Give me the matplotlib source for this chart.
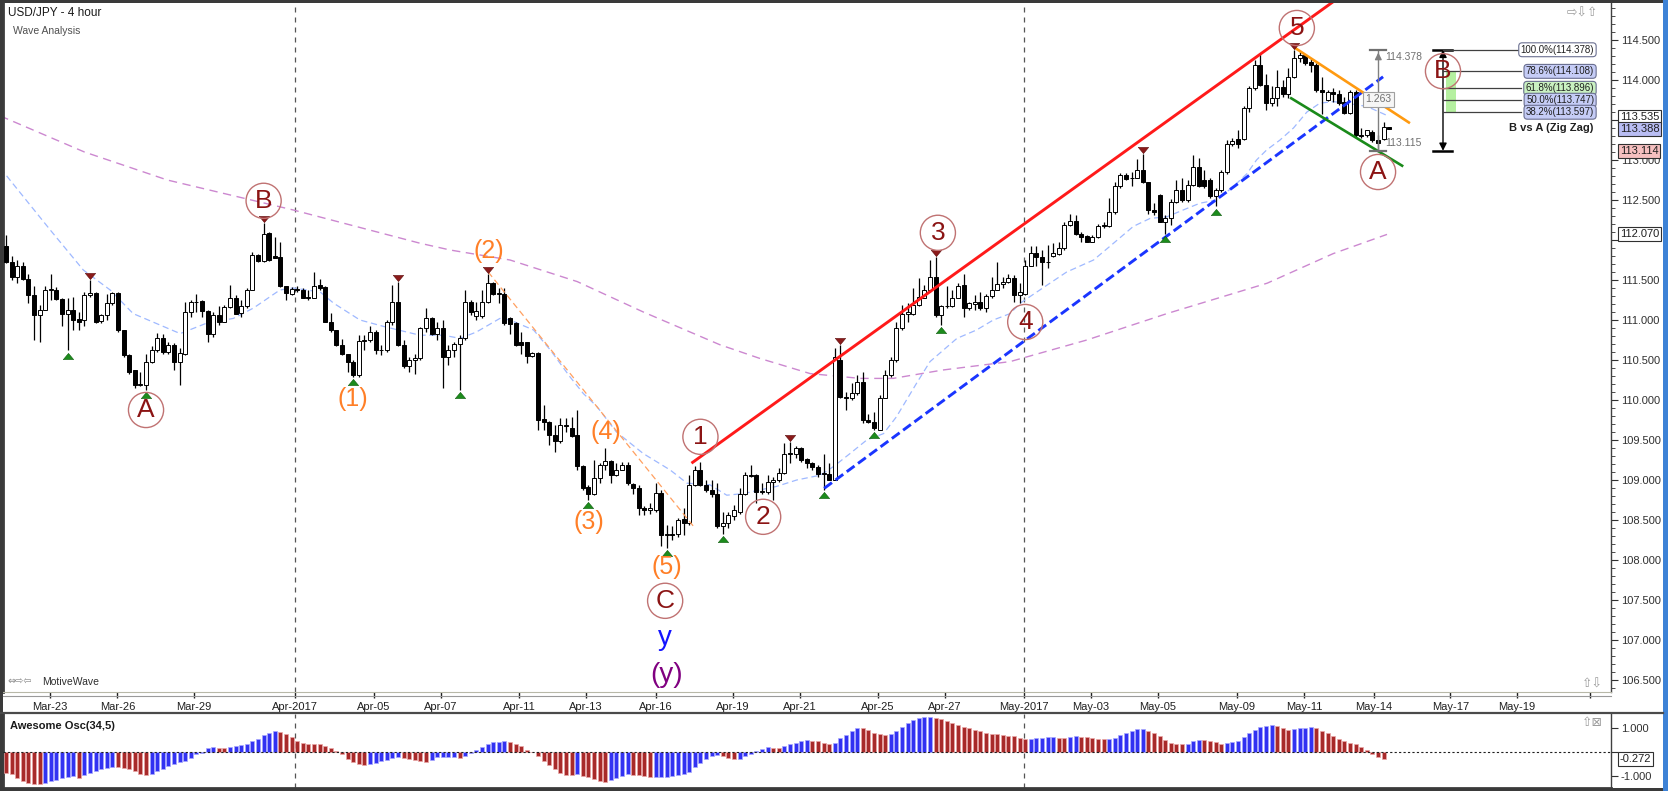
import numpy as np
import matplotlib.pyplot as plt
from matplotlib.patches import Rectangle
from matplotlib.lines import Line2D
from matplotlib.ticker import MultipleLocator, FuncFormatter
from matplotlib.transforms import blended_transform_factory

plt.rcParams['font.family'] = ['Liberation Sans', 'DejaVu Sans']

W, H = 1668, 791

# ---------------------------------------------------------------- candles (USD/JPY 4h)
opens = [
    111.92, 111.72, 111.54, 111.68, 111.51, 111.31, 111.06, 111.12, 111.38, 111.38,
    111.26, 111.08, 111.12, 111.01, 111.00, 111.31, 111.34, 110.99, 111.06, 111.21,
    111.34, 110.88, 110.56, 110.37, 110.19, 110.19, 110.48, 110.63, 110.77, 110.60,
    110.69, 110.47, 110.58, 111.10, 111.23, 111.24, 111.11, 110.83, 111.06, 110.98,
    111.16, 111.28, 111.09, 111.17, 111.38, 111.81, 111.74, 112.09, 111.80, 111.79,
    111.42, 111.33, 111.39, 111.38, 111.29, 111.28, 111.44, 111.41, 110.98, 110.87,
    110.69, 110.58, 110.48, 110.31, 110.74, 110.75, 110.85, 110.62, 110.62, 110.97,
    111.23, 110.69, 110.42, 110.50,
    110.52, 110.90, 111.02, 110.83, 110.90, 110.54, 110.63, 110.70, 110.77, 111.22,
    111.05, 111.05, 111.23, 111.46, 111.33, 111.33, 111.02, 110.96, 110.72, 110.72,
    110.55, 110.59, 109.76, 109.73, 109.56, 109.49, 109.69, 109.65, 109.56, 109.17,
    108.91, 108.83, 109.02, 109.19, 109.24, 109.06, 109.13, 109.19, 108.95, 108.90,
    108.65, 108.63, 108.62, 108.84, 108.31, 108.33, 108.33, 108.51, 108.46, 108.94,
    109.13, 108.94, 108.88, 108.83,
    108.42, 108.46, 108.55, 108.60, 108.83, 109.06, 109.06, 108.85, 108.85, 108.98,
    109.00, 109.09, 109.33, 109.33, 109.40, 109.26, 109.21, 109.16, 109.08, 109.08,
    109.00, 110.50, 110.04, 110.02, 110.09, 110.22, 109.75, 109.73, 109.63, 110.03,
    110.31, 110.50, 110.90, 111.08, 111.08, 111.19, 111.28, 111.37, 111.54, 111.06,
    111.175, 111.175, 111.28, 111.44, 111.15, 111.20, 111.22, 111.15, 111.30, 111.38,
    111.45, 111.47,
    111.53, 111.31, 111.33, 111.675, 111.84, 111.79, 111.72, 111.80, 111.83, 111.90,
    112.19, 112.24, 112.08, 112.05, 111.98, 112.04, 112.18, 112.175, 112.35, 112.675,
    112.81, 112.78, 112.78, 112.88, 112.72, 112.37, 112.56, 112.23, 112.27, 112.47,
    112.63, 112.50, 112.69, 112.91, 112.75, 112.75, 112.55, 112.62, 112.85, 113.20,
    113.26, 113.26, 113.65, 113.90, 114.19, 113.94, 113.71, 113.78, 113.91, 113.825,
    114.04, 114.27, 114.31, 114.23, 114.19, 113.875, 113.75, 113.85, 113.83, 113.73,
    113.59, 113.85, 113.31, 113.31, 113.35, 113.25, 113.26, 113.41,
]
highs = [
    112.06, 111.80, 111.75, 111.73, 111.58, 111.42, 111.19, 111.42, 111.58, 111.41,
    111.27, 111.27, 111.29, 111.10, 111.35, 111.50, 111.35, 111.08, 111.33, 111.35,
    111.35, 110.88, 110.58, 110.38, 110.35, 110.58, 110.68, 110.84, 110.83, 110.73,
    110.71, 110.65, 111.23, 111.25, 111.33, 111.25, 111.13, 111.10, 111.17, 111.19,
    111.44, 111.31, 111.25, 111.40, 111.85, 111.83, 112.21, 112.10, 112.04, 111.98,
    111.42, 111.41, 111.42, 111.40, 111.37, 111.60, 111.51, 111.42, 111.09, 110.88,
    110.76, 110.58, 110.50, 110.81, 110.81, 110.92, 110.88, 110.69, 111.00, 111.44,
    111.48, 110.75, 110.54, 110.58,
    110.91, 111.15, 111.04, 110.98, 111.00, 110.69, 110.73, 110.81, 111.38, 111.25,
    111.23, 111.38, 111.58, 111.48, 111.40, 111.40, 111.04, 110.98, 110.85, 110.73,
    110.60, 110.60, 109.94, 109.74, 109.69, 109.77, 109.77, 109.79, 109.88, 109.19,
    108.94, 109.25, 109.21, 109.40, 109.25, 109.21, 109.23, 109.23, 108.96, 108.94,
    108.67, 108.71, 108.96, 108.88, 108.44, 108.42, 108.52, 108.65, 109.06, 109.18,
    109.23, 109.00, 109.00, 108.96,
    108.60, 108.60, 108.69, 108.90, 109.10, 109.19, 109.08, 108.96, 109.06, 109.04,
    109.15, 109.46, 109.48, 109.42, 109.41, 109.27, 109.22, 109.19, 109.33, 109.21,
    110.65, 110.69, 110.10, 110.21, 110.31, 110.35, 109.83, 109.85, 110.06, 110.375,
    110.54, 110.98, 111.19, 111.21, 111.40, 111.52, 111.44, 111.75, 111.79, 111.19,
    111.42, 111.375, 111.46, 111.58, 111.23, 111.31, 111.35, 111.33, 111.54, 111.73,
    111.54, 111.58,
    111.56, 111.46, 111.75, 111.925, 111.92, 111.875, 111.94, 111.96, 111.98, 112.22,
    112.325, 112.31, 112.10, 112.06, 112.06, 112.20, 112.23, 112.52, 112.73, 112.84,
    112.84, 112.85, 113.01, 113.08, 112.73, 112.46, 112.575, 112.31, 112.51, 112.75,
    112.77, 112.75, 113.06, 113.02, 112.875, 112.77, 112.65, 112.87, 113.25, 113.27,
    113.38, 113.675, 113.92, 114.25, 114.33, 114.08, 113.92, 114.13, 114.00, 114.15,
    114.378, 114.35, 114.33, 114.27, 114.21, 114.04, 113.875, 113.90, 113.875, 113.79,
    113.875, 113.875, 113.40, 113.38, 113.375, 113.31, 113.47, 113.41,
]
lows = [
    111.71, 111.50, 111.46, 111.50, 111.21, 110.75, 110.73, 111.12, 111.25, 111.25,
    110.92, 110.62, 110.88, 110.88, 110.92, 111.29, 110.96, 110.96, 111.00, 111.19,
    110.85, 110.54, 110.33, 110.15, 110.17, 110.13, 110.46, 110.60, 110.58, 110.58,
    110.38, 110.19, 110.56, 111.04, 111.10, 111.04, 110.72, 110.79, 110.94, 110.97,
    111.15, 111.08, 111.04, 111.15, 111.38, 111.73, 111.73, 111.74, 111.77, 111.41,
    111.25, 111.31, 111.35, 111.27, 111.25, 111.27, 111.38, 110.97, 110.85, 110.67,
    110.56, 110.35, 110.29, 110.29, 110.63, 110.73, 110.58, 110.56, 110.60, 110.94,
    110.67, 110.40, 110.35, 110.33,
    110.50, 110.85, 110.81, 110.75, 110.15, 110.44, 110.54, 110.13, 110.75, 111.06,
    111.00, 111.02, 111.21, 111.31, 111.21, 110.94, 110.83, 110.67, 110.58, 110.46,
    110.54, 109.63, 109.63, 109.44, 109.35, 109.46, 109.60, 109.54, 109.13, 108.88,
    108.75, 108.81, 108.96, 109.13, 108.96, 109.05, 109.13, 108.94, 108.83, 108.56,
    108.56, 108.58, 108.60, 108.17, 108.15, 108.25, 108.29, 108.31, 108.44, 108.92,
    108.92, 108.85, 108.79, 108.40,
    108.33, 108.40, 108.50, 108.58, 108.81, 109.04, 108.71, 108.83, 108.83, 108.75,
    108.98, 109.08, 109.21, 109.27, 109.23, 109.15, 109.125, 109.04, 108.88, 109.00,
    109.00, 110.02, 109.875, 110.00, 110.06, 109.71, 109.71, 109.625, 109.625, 110.02,
    110.29, 110.48, 110.88, 110.98, 111.06, 111.17, 111.27, 111.35, 111.04, 110.94,
    111.15, 111.16, 111.27, 111.04, 111.125, 111.13, 111.125, 111.10, 111.28, 111.375,
    111.40, 111.46,
    111.23, 111.21, 111.31, 111.67, 111.67, 111.44, 111.65, 111.79, 111.81, 111.875,
    112.17, 112.06, 111.98, 111.97, 111.97, 112.02, 112.15, 112.16, 112.33, 112.65,
    112.75, 112.67, 112.77, 112.71, 112.33, 112.31, 112.22, 112.08, 112.19, 112.46,
    112.48, 112.48, 112.67, 112.66, 112.65, 112.53, 112.42, 112.60, 112.83, 113.17,
    113.15, 113.25, 113.60, 113.88, 113.92, 113.625, 113.675, 113.675, 113.79, 113.77,
    114.02, 114.23, 114.19, 114.10, 113.85, 113.58, 113.74, 113.73, 113.69, 113.58,
    113.575, 113.29, 113.28, 113.29, 113.23, 113.115, 113.25, 113.39,
]
closes = [
    111.73, 111.54, 111.67, 111.51, 111.31, 111.06, 111.13, 111.38, 111.38, 111.26,
    111.08, 111.12, 111.00, 110.98, 111.31, 111.34, 110.98, 111.06, 111.21, 111.34,
    110.88, 110.56, 110.35, 110.19, 110.20, 110.48, 110.63, 110.77, 110.60, 110.69,
    110.47, 110.59, 111.10, 111.23, 111.22, 111.11, 110.83, 111.06, 110.98, 111.16,
    111.28, 111.08, 111.17, 111.38, 111.81, 111.74, 112.08, 111.75, 111.78, 111.42,
    111.34, 111.39, 111.38, 111.28, 111.28, 111.42, 111.40, 110.98, 110.87, 110.69,
    110.58, 110.48, 110.31, 110.74, 110.75, 110.85, 110.62, 110.63, 110.97, 111.23,
    110.69, 110.42, 110.50, 110.52,
    110.90, 111.02, 110.83, 110.90, 110.54, 110.63, 110.70, 110.77, 111.22, 111.10,
    111.11, 111.23, 111.46, 111.33, 111.33, 110.96, 110.95, 110.69, 110.69, 110.55,
    110.59, 109.75, 109.72, 109.56, 109.49, 109.69, 109.67, 109.55, 109.17, 108.90,
    108.83, 109.02, 109.19, 109.24, 109.06, 109.13, 109.19, 108.96, 108.90, 108.65,
    108.63, 108.65, 108.84, 108.31, 108.33, 108.31, 108.50, 108.46, 108.94, 109.13,
    108.94, 108.88, 108.83, 108.42,
    108.46, 108.56, 108.625, 108.83, 109.06, 109.05, 108.85, 108.85, 108.98, 109.00,
    109.09, 109.33, 109.325, 109.40, 109.25, 109.21, 109.16, 109.08, 109.08, 109.00,
    110.54, 110.04, 110.03, 110.09, 110.22, 109.75, 109.73, 109.65, 110.03, 110.31,
    110.50, 110.90, 111.08, 111.10, 111.19, 111.29, 111.37, 111.54, 111.06, 111.175,
    111.17, 111.28, 111.425, 111.15, 111.21, 111.22, 111.15, 111.30, 111.38, 111.45,
    111.47, 111.52,
    111.31, 111.35, 111.675, 111.84, 111.79, 111.72, 111.73, 111.84, 111.90, 112.19,
    112.24, 112.075, 112.04, 111.98, 112.04, 112.18, 112.175, 112.35, 112.675, 112.81,
    112.76, 112.77, 112.88, 112.72, 112.37, 112.35, 112.23, 112.27, 112.47, 112.63,
    112.50, 112.69, 112.91, 112.67, 112.67, 112.55, 112.62, 112.85, 113.20, 113.24,
    113.20, 113.65, 113.90, 114.19, 113.94, 113.71, 113.78, 113.91, 113.825, 114.04,
    114.27, 114.31, 114.21, 114.19, 113.875, 113.85, 113.85, 113.83, 113.71, 113.59,
    113.85, 113.31, 113.30, 113.37, 113.25, 113.21, 113.41, 113.39,
]

# Awesome oscillator (34,5)
ao = [
    -0.875, -0.93, -1.07, -1.22, -1.29, -1.32, -1.33, -1.28, -1.22, -1.15,
    -1.08, -1.06, -1.01, -1.07, -0.97, -0.875, -0.79, -0.72, -0.67, -0.61,
    -0.625, -0.65, -0.72, -0.81, -0.90, -0.94, -0.90, -0.81, -0.69, -0.60,
    -0.51, -0.42, -0.36, -0.24, -0.10, -0.03, 0.18, 0.19, 0.185, 0.18,
    0.22, 0.25, 0.31, 0.35, 0.44, 0.56, 0.69, 0.79, 0.86, 0.83,
    0.75, 0.625, 0.44, 0.39, 0.33, 0.325, 0.32, 0.25, 0.17, 0.03,
    -0.07, -0.28, -0.42, -0.51, -0.53, -0.49, -0.44, -0.39, -0.32, -0.25,
    -0.21, -0.24, -0.28, -0.32, -0.39, -0.40, -0.32, -0.22, -0.215, -0.21,
    -0.20, -0.24, -0.15, -0.03, 0.07, 0.21, 0.35, 0.43, 0.435, 0.47,
    0.43, 0.35, 0.24, 0.07, -0.01, -0.18, -0.36, -0.56, -0.72, -0.875,
    -0.94, -0.95, -0.93, -1.00, -1.06, -1.125, -1.22, -1.23, -1.15, -1.07,
    -0.99, -0.92, -0.94, -0.95, -1.01, -1.045, -1.04, -1.035, -1.025, -1.00,
    -0.97, -0.93, -0.83, -0.625, -0.44, -0.28, -0.17, -0.14, -0.17, -0.25,
    -0.29, -0.28, -0.18, -0.08, 0.03, 0.11, 0.19, 0.17, 0.165, 0.25,
    0.32, 0.39, 0.44, 0.50, 0.47, 0.44, 0.36, 0.32, 0.39, 0.58,
    0.72, 0.86, 1.01, 1.00, 0.90, 0.81, 0.74, 0.69, 0.74, 0.86,
    1.04, 1.21, 1.32, 1.42, 1.44, 1.445, 1.43, 1.36, 1.28, 1.21,
    1.14, 1.06, 1.01, 0.93, 0.86, 0.78, 0.74, 0.735, 0.69, 0.685,
    0.65, 0.60, 0.555, 0.56, 0.58, 0.585, 0.625, 0.63, 0.58, 0.575,
    0.625, 0.65, 0.625, 0.62, 0.58, 0.56, 0.555, 0.56, 0.60, 0.69,
    0.78, 0.86, 0.94, 0.945, 0.89, 0.78, 0.67, 0.51, 0.39, 0.35,
    0.345, 0.35, 0.46, 0.51, 0.505, 0.46, 0.42, 0.35, 0.355, 0.42,
    0.46, 0.625, 0.78, 0.90, 1.03, 1.10, 1.105, 1.10, 0.99, 0.90,
    0.94, 1.00, 1.005, 1.03, 0.99, 0.86, 0.78, 0.67, 0.56, 0.47,
    0.39, 0.32, 0.21, 0.08, -0.07, -0.19, -0.272,
]

# moving averages (bar index, price)
ma_fast_x = [-1, 0.7, 7.9, 13.8, 18.6, 22.7, 31.1, 35.8, 40.6, 44.2, 48.9, 51.3, 56.1, 58.5,
             63.2, 67.4, 73.9, 78.1, 81.1, 84.0, 88.2, 90.0, 94.2, 97.2, 100.7, 103.1, 105.5,
             109.0, 113.8, 118.6, 121.6, 125.7, 128.7, 131.7, 134.6, 137.6, 141.2, 145.4,
             147.8, 150.7, 153.7, 156.7, 159.0, 162.6, 165.0, 167.4, 169.8, 173.3, 176.3,
             179.3, 181.1, 184.6, 189.4, 194.2, 197.1, 201.3, 204.3, 207.3, 210.2, 213.2,
             216.2, 219.2, 221.6, 223.3, 225.1, 227.5, 229.9, 232.3, 234.6, 237.0, 239.4,
             243.0, 246.5]
ma_fast_y = [112.9, 112.75, 112.125, 111.625, 111.375, 111.08, 110.83, 110.96, 111.02, 111.15,
             111.375, 111.40, 111.35, 111.21, 111.0, 110.92, 110.81, 110.81, 110.77, 110.85,
             111.02, 111.0, 110.875, 110.625, 110.29, 110.08, 109.92, 109.60, 109.33, 109.125,
             108.96, 108.94, 108.81, 108.83, 108.875, 108.92, 109.0, 109.06, 109.17, 109.33,
             109.50, 109.58, 109.79, 110.21, 110.48, 110.625, 110.77, 110.875, 111.0, 111.08,
             111.21, 111.375, 111.60, 111.75, 111.92, 112.17, 112.27, 112.29, 112.375, 112.46,
             112.5, 112.67, 112.83, 113.0, 113.125, 113.25, 113.40, 113.60, 113.71, 113.73,
             113.71, 113.67, 113.56]
ma_slow_x = [-1, 14, 28.8, 51.3, 73.9, 79.3, 90, 102, 113.8, 127.5, 134.6, 143.6, 152.5,
             158.4, 167.3, 179.3, 193, 207.3, 225.2, 237, 246.6]
ma_slow_y = [113.55, 113.1, 112.75, 112.375, 111.96, 111.875, 111.75, 111.48, 111.1, 110.69,
             110.52, 110.33, 110.27, 110.27, 110.375, 110.48, 110.75, 111.08, 111.46, 111.83,
             112.07]

# date axis
date_pos = [7.8, 19.9, 33.6, 51.6, 65.7, 77.7, 91.6, 103.6, 116.1, 129.8, 141.8, 155.7,
            167.7, 181.8, 193.75, 205.7, 219.8, 231.8, 244.3, 257.9, 269.8, 282.9]
date_labels = ['Mar-23', 'Mar-26', 'Mar-29', 'Apr-2017', 'Apr-05', 'Apr-07', 'Apr-11',
               'Apr-13', 'Apr-16', 'Apr-19', 'Apr-21', 'Apr-25', 'Apr-27', 'May-2017',
               'May-03', 'May-05', 'May-09', 'May-11', 'May-14', 'May-17', 'May-19', '']
month_lines = [51.6, 181.8]

# wave labels
circ_text = ['A', 'B', '1', '2', '3', '4', '5', 'A', 'B', 'C']
circ_x = [25, 46, 124, 135.2, 166.4, 182, 230.5, 245, 256.6, 117.7]
circ_y = [109.875, 112.49, 109.54, 108.54, 112.09, 110.975, 114.65, 112.85, 114.11, 107.49]
minor_text = ['(1)', '(2)', '(3)', '(4)', '(5)']
minor_x = [62, 86.3, 104, 107.2, 118]
minor_y = [110.01, 111.86, 108.47, 109.6, 107.91]

# swing markers
swing_high_bars = [15, 46, 70, 86, 140, 149, 166, 203, 230]
swing_low_bars = [11, 25, 62, 81, 104, 118, 128, 146, 155, 167, 207, 216]

# drawn trend lines: ((x0, y0), (x1, y1))
red_line = ((122.4, 109.21), (240, 115.13))
blue_line = ((146.1, 108.896), (245.9, 114.04))
orange_line = ((230.2, 114.40), (250.7, 113.46))
green_line = ((229.3, 113.78), (249.5, 112.92))
thin_orange = ((86.1, 111.60), (123.0, 108.40))

# fibonacci retracement (B vs A)
fib_pct = ['100.0%', '78.6%', '61.8%', '50.0%', '38.2%']
fib_lvl = [114.378, 114.108, 113.896, 113.747, 113.597]
fib_low = 113.115
fib_fill = ['white', '#c5ccf6', '#c9f1c1', '#c5ccf6', '#c5ccf6']

# price scale callouts
callout_val = [113.535, 113.388, 113.114, 112.070]
callout_fc = ['white', '#b9bdf3', '#f6c0c0', 'white']
ao_last = -0.272

# scale labels that sit under a callout box
hidden_price_ticks = [113.5, 112.0]
hidden_ao_ticks = [0.0]

# ---------------------------------------------------------------- figure
fig = plt.figure(figsize=(W / 100, H / 100), dpi=100)
fig.patch.set_facecolor('white')


def px_axes(x0, y0, x1, y1):
    return fig.add_axes([x0 / W, 1 - y1 / H, (x1 - x0) / W, (y1 - y0) / H])


ax = px_axes(3, 3, 1611, 692)
ax2 = px_axes(3, 714, 1611, 788)

xmin, xmax = -0.54, 286.6
ax.set_xlim(xmin, xmax)
ax.set_ylim(106.35, 114.9625)
ax2.set_xlim(xmin, xmax)
ax2.set_ylim(-1.5, 1.583)

o = np.array(opens)
h = np.array(highs)
l = np.array(lows)
c = np.array(closes)
n = len(c)
idx = np.arange(n)
hi = np.maximum(h, np.maximum(o, c))
lo = np.minimum(l, np.minimum(o, c))

ax.vlines(idx, lo, hi, color='black', lw=0.9, zorder=3)
up = c >= o
ax.bar(idx, np.maximum(np.abs(c - o), 0.01), bottom=np.minimum(o, c), width=0.72,
       color=np.where(up, 'white', 'black'), edgecolor='black', lw=0.7, zorder=4)

# moving averages
ax.plot(ma_fast_x, ma_fast_y, color='#9fb9ff', lw=0.9, ls=(0, (5, 3)), zorder=2)
ax.plot(ma_slow_x, ma_slow_y, color='#cc88d0', lw=1.0, ls=(0, (6, 4)), zorder=2)

# month separators
for xm in month_lines:
    ax.axvline(xm, color='#555555', lw=0.9, ls=(0, (4, 4)), zorder=1)
    ax2.axvline(xm, color='#555555', lw=0.9, ls=(0, (4, 4)), zorder=1)

# trend lines
for (p0, p1), col, ls, lw in [
        (red_line, '#ff1a1a', '-', 2.1),
        (blue_line, '#1a35ff', (0, (3.3, 1.5)), 2.1),
        (orange_line, '#ff9a10', '-', 1.9),
        (green_line, '#1a8a1a', '-', 1.9),
        (thin_orange, '#ffa060', (0, (5, 3)), 0.9)]:
    ax.plot([p0[0], p1[0]], [p0[1], p1[1]], color=col, lw=lw, ls=ls, zorder=5,
            solid_capstyle='butt')

# swing triangles
tri_dn = [(-1, 0.6), (1, 0.6), (0, -0.6), (-1, 0.6)]
tri_up = [(-1, -0.6), (1, -0.6), (0, 0.6), (-1, -0.6)]
ax.scatter(swing_high_bars, hi[swing_high_bars] + 0.05, marker=tri_dn, s=55,
           color='#8b1a1a', edgecolor='#5a0a0a', lw=0.4, zorder=6)
ax.scatter(swing_low_bars, lo[swing_low_bars] - 0.065, marker=tri_up, s=55,
           color='#1c8c1c', edgecolor='#0a5a0a', lw=0.4, zorder=6)

# wave labels
ax.scatter(circ_x, circ_y, s=640, facecolors='none', edgecolors='#c07272', lw=1.0, zorder=7)
for t, x, y in zip(circ_text, circ_x, circ_y):
    ax.text(x, y, t, ha='center', va='center', fontsize=19, color='#8b1414', zorder=8)
for t, x, y in zip(minor_text, minor_x, minor_y):
    ax.text(x, y, t, ha='center', va='center', fontsize=18, color='#ff7f27', zorder=8)
ax.text(117.7, 107.03, 'y', ha='center', va='center', fontsize=20, color='#1414ff', zorder=8)
ax.text(118, 106.56, '(y)', ha='center', va='center', fontsize=20, color='#800080', zorder=8)

# measurement from swing 5 to A
mx = 245.05
ax.plot([mx, mx], [fib_low, fib_lvl[0]], color='#808080', lw=1, zorder=6)
ax.annotate('', xy=(mx, fib_lvl[0]), xytext=(mx, fib_lvl[0] - 0.15),
            arrowprops=dict(arrowstyle='-|>', color='#808080', lw=1, mutation_scale=10), zorder=6)
for yv in (fib_lvl[0], fib_low):
    ax.plot([mx - 1.4, mx + 1.4], [yv, yv], color='#707070', lw=1.6, zorder=6)
ax.text(mx + 1.3, 114.29, '114.378', fontsize=7.5, color='#707070', va='center', zorder=7)
ax.text(mx + 1.3, 113.215, '113.115', fontsize=7.5, color='#707070', va='center', zorder=7)
ax.text(mx, 113.76, '1.263', fontsize=7.5, color='#707070', ha='center', va='center', zorder=7,
        bbox=dict(boxstyle='square,pad=0.25', fc='#f6f6f6', ec='#a0a0a0', lw=0.8))

# fibonacci tool
fx0 = 256.6
ax.add_patch(Rectangle((257.2, fib_lvl[4]), 1.8, fib_lvl[1] - fib_lvl[4],
                       color='#b5f0a0', lw=0, zorder=5))
ax.annotate('', xy=(fx0, fib_lvl[0]), xytext=(fx0, fib_low),
            arrowprops=dict(arrowstyle='<|-|>', color='black', lw=1, mutation_scale=11,
                            shrinkA=0, shrinkB=0), zorder=6)
for yv in (fib_lvl[0], fib_low):
    ax.plot([fx0 - 1.8, fx0 + 1.6], [yv, yv], color='black', lw=1.8, zorder=6)
for pct, lv, fc in zip(fib_pct, fib_lvl, fib_fill):
    ax.plot([fx0, 270.5], [lv, lv], color='#404040', lw=0.9, zorder=6)
    ax.text(283.6, lv, f'{pct}({lv:.3f})', ha='right', va='center', fontsize=7, color='#202020',
            zorder=8, bbox=dict(boxstyle='round,pad=0.2,rounding_size=0.35', fc=fc,
                                ec='#6a6f90', lw=0.8))
ax.text(283.4, 113.40, 'B vs A (Zig Zag)', ha='right', va='center', fontsize=8,
        fontweight='bold', color='#202020', zorder=8)

# ---------------------------------------------------------------- axes styling
for a in (ax, ax2):
    a.spines['top'].set_visible(False)
    a.spines['left'].set_color('#3c3c3c')
    a.spines['left'].set_linewidth(2)
    a.spines['right'].set_color('#404040')
    a.spines['right'].set_linewidth(1)
    a.yaxis.tick_right()
    a.tick_params(axis='y', which='both', direction='out', colors='#303030',
                  labelsize=8, pad=2, left=False)
ax.spines['bottom'].set_color('#b8b8a8')
ax2.spines['bottom'].set_color('#3c3c3c')
ax2.spines['bottom'].set_linewidth(2)


def scale_label(hidden):
    def fmt(v, pos):
        if any(abs(v - hv) < 1e-6 for hv in hidden):
            return ''
        return f'{v:.3f}'
    return FuncFormatter(fmt)


ax.yaxis.set_major_locator(MultipleLocator(0.5))
ax.yaxis.set_minor_locator(MultipleLocator(0.1))
ax.yaxis.set_major_formatter(scale_label(hidden_price_ticks))
ax.tick_params(axis='y', which='major', length=5)
ax.tick_params(axis='y', which='minor', length=3)

ax.set_xticks(date_pos)
ax.set_xticklabels(date_labels)
ax.tick_params(axis='x', direction='out', length=4, labelsize=8, pad=3,
               colors='#202020', width=1)

ax2.set_xticks([])
ax2.set_yticks([-1, 0, 1])
ax2.yaxis.set_major_formatter(scale_label(hidden_ao_ticks))
ax2.tick_params(axis='y', length=5)

# awesome oscillator bars
av = np.array(ao)
rising = np.concatenate([[False], av[1:] > av[:-1]])
bar_c = np.where(rising, '#3232f2', '#a82a2a')
edge_c = np.where(rising, '#a8a8ff', '#eaa8a8')
ax2.bar(np.arange(len(av)), av, width=0.72, color=bar_c, edgecolor=edge_c, lw=0.5, zorder=3)
ax2.axhline(0, color='#202020', lw=0.8, ls=(0, (2, 2)), zorder=4)

# price-scale callouts
tr = blended_transform_factory(ax.transAxes, ax.transData)
for v, fc in zip(callout_val, callout_fc):
    ax.text(1.0055, v, f'{v:.3f}', transform=tr, fontsize=8, color='#202020', va='center',
            ha='left', zorder=10, bbox=dict(boxstyle='square,pad=0.18', fc=fc,
                                            ec='#303030', lw=0.8))
tr2 = blended_transform_factory(ax2.transAxes, ax2.transData)
ax2.text(1.0055, ao_last, f'{ao_last:.3f}', transform=tr2, fontsize=8, color='#202020',
         va='center', ha='left', zorder=10,
         bbox=dict(boxstyle='square,pad=0.18', fc='white', ec='#303030', lw=0.8))

# ---------------------------------------------------------------- frame and captions
def fx(px):
    return px / W


def fy(py):
    return 1 - py / H


fig.add_artist(Rectangle((0, fy(3)), 1, 3 / H, transform=fig.transFigure,
                         color='#3a3a3a', lw=0))
fig.add_artist(Rectangle((0, 0), 3 / W, 1, transform=fig.transFigure, color='#3a3a3a', lw=0))
fig.add_artist(Rectangle((0, 0), 1, 3 / H, transform=fig.transFigure, color='#3a3a3a', lw=0))
fig.add_artist(Rectangle((fx(1663), 0), 5 / W, 1, transform=fig.transFigure,
                         color='#3d82d6', lw=0))
fig.add_artist(Line2D([fx(3), fx(1611)], [fy(696), fy(696)], transform=fig.transFigure,
                      color='#9a9a9a', lw=0.8))
fig.add_artist(Line2D([0, fx(1663)], [fy(712.5), fy(712.5)], transform=fig.transFigure,
                      color='#4a4a4a', lw=1.6))

fig.text(fx(8), fy(13), 'USD/JPY - 4 hour', fontsize=8.5, color='#1a1a1a', va='center')
fig.text(fx(13), fy(31), 'Wave Analysis', fontsize=7.5, color='#505050', va='center')
fig.text(fx(10), fy(726), 'Awesome Osc(34,5)', fontsize=8, fontweight='bold',
         color='#1a1a1a', va='center')
fig.text(fx(8), fy(682), '\u21d4\u21e8\u21e6', fontsize=7, color='#8a8a8a', va='center',
         family='DejaVu Sans')
fig.text(fx(42), fy(682), 'MotiveWave', fontsize=7.5, color='#303030', va='center')
fig.text(fx(1567), fy(13), '\u21e8\u21e9\u21e7', fontsize=9, color='#9a9a9a', va='center',
         family='DejaVu Sans')
fig.text(fx(1582), fy(684), '\u21e7\u21e9', fontsize=9, color='#9a9a9a', va='center',
         family='DejaVu Sans')
fig.text(fx(1582), fy(723), '\u21e7\u22a0', fontsize=9, color='#9a9a9a', va='center',
         family='DejaVu Sans')

fig.savefig('out.png', dpi=100)
